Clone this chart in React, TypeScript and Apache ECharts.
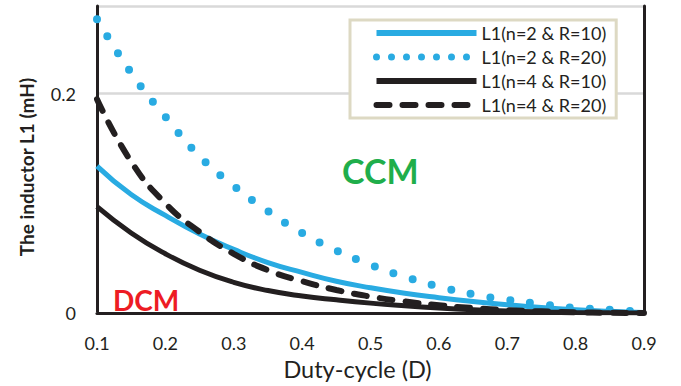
import { useEffect, useRef } from "react";
import * as echarts from "echarts";

const dutyCycle = [0.1, 0.15, 0.2, 0.25, 0.3, 0.35, 0.4, 0.45, 0.5, 0.55, 0.6, 0.65, 0.7, 0.75, 0.8, 0.85, 0.9];
const seriesNames = ["L1(n=2 & R=10)", "L1(n=2 & R=20)", "L1(n=4 & R=10)", "L1(n=4 & R=20)"];
const n2R10 = [0.134, 0.108, 0.089, 0.072, 0.058, 0.046, 0.037, 0.029, 0.023, 0.018, 0.014, 0.0105, 0.0075, 0.005, 0.003, 0.0015, 0.0004];
const n2R20 = [0.268, 0.219, 0.179, 0.143, 0.116, 0.093, 0.073, 0.057, 0.044, 0.033, 0.024, 0.017, 0.012, 0.008, 0.0046, 0.003, 0.001];
const n4R10 = [0.097, 0.073, 0.054, 0.039, 0.028, 0.0205, 0.0155, 0.012, 0.009, 0.0066, 0.0046, 0.003, 0.0018, 0.001, 0.0005, 0.0002, 0];
const n4R20 = [0.195, 0.138, 0.1, 0.074, 0.054, 0.039, 0.029, 0.021, 0.015, 0.0105, 0.007, 0.0045, 0.0027, 0.0015, 0.0007, 0.0002, 0];
const regionLabels = ["CCM", "DCM"];

const BLUE = "#29abe2";
const BLACK = "#231f20";
const FONT = "Lato";

function pairs(ys: number[]) {
  return dutyCycle.map((d, i) => [d, ys[i]]);
}

export default function App() {
  const ref = useRef<HTMLDivElement>(null);
  useEffect(() => {
    document.body.style.margin = "0";
    const chart = echarts.init(ref.current!, undefined, { renderer: "svg" });
    const frameAxis = {
      show: true,
      axisLine: { show: true, lineStyle: { color: BLACK, width: 3 } },
      axisTick: { show: false },
      axisLabel: { show: false },
      splitLine: { show: false },
    };
    const hidden = { opacity: 0 };
    chart.setOption({
      animation: false,
      textStyle: { fontFamily: FONT },
      grid: { left: 97, right: 37, top: 6, bottom: 73 },
      xAxis: [
        {
          type: "value",
          min: 0.1,
          max: 0.9,
          interval: 0.1,
          position: "bottom",
          axisLine: { show: true, lineStyle: { color: "#d9d9d9", width: 3 } },
          axisTick: { show: false },
          splitLine: { show: false },
          axisLabel: {
            fontSize: 18,
            color: BLACK,
            fontFamily: FONT,
            margin: 21,
            formatter: (v: number) => v.toFixed(1),
          },
          name: "Duty-cycle (D)",
          nameLocation: "middle",
          nameGap: 41,
          nameTextStyle: { fontSize: 23.5, color: BLACK, fontFamily: FONT, padding: [0, 26, 0, 0] },
        },
        { type: "value", min: 0.1, max: 0.9, position: "top", ...frameAxis },
      ],
      yAxis: [
        {
          type: "value",
          min: 0,
          max: 0.28,
          interval: 0.2,
          position: "left",
          axisLine: { show: true, lineStyle: { color: BLACK, width: 3 } },
          axisTick: { show: false },
          splitLine: { show: true, lineStyle: { color: "#d9d9d9", width: 2.5 } },
          axisLabel: {
            fontSize: 18,
            color: BLACK,
            fontFamily: FONT,
            margin: 21,
            showMaxLabel: false,
            formatter: (v: number) => (v === 0 ? "0" : v.toFixed(1)),
          },
          name: "The inductor L1 (mH)",
          nameLocation: "middle",
          nameGap: 61,
          nameTextStyle: { fontSize: 19, fontWeight: "bold", color: BLACK, fontFamily: FONT, padding: [0, 15, 0, 0] },
        },
        { type: "value", min: 0, max: 0.28, position: "right", ...frameAxis },
      ],
      legend: {
        orient: "vertical",
        left: 350,
        top: 20,
        itemWidth: 100,
        itemHeight: 8,
        itemGap: 6,
        padding: [4, 10, 4, 23],
        backgroundColor: "#ffffff",
        borderColor: "#ddd9c3",
        borderWidth: 3,
        borderRadius: 0,
        textStyle: { fontSize: 18, color: BLACK, fontFamily: FONT, lineHeight: 18 },
        data: [
          { name: seriesNames[0], itemStyle: hidden, lineStyle: { width: 6 } },
          { name: seriesNames[1], itemStyle: hidden, lineStyle: { width: 7, type: [0, 15], cap: "round" } },
          { name: seriesNames[2], itemStyle: hidden, lineStyle: { width: 6 } },
          { name: seriesNames[3], itemStyle: hidden, lineStyle: { width: 6, type: [13, 13], cap: "round" } },
        ],
      },
      series: [
        {
          name: seriesNames[0],
          type: "line",
          data: pairs(n2R10),
          showSymbol: false,
          symbol: "none",
          smooth: 0.5,
          color: BLUE,
          lineStyle: { color: BLUE, width: 5 },
        },
        {
          name: seriesNames[1],
          type: "line",
          data: pairs(n2R20),
          showSymbol: false,
          symbol: "none",
          smooth: 0.5,
          color: BLUE,
          lineStyle: { color: BLUE, width: 8, type: [0, 20], cap: "round" },
        },
        {
          name: seriesNames[2],
          type: "line",
          data: pairs(n4R10),
          showSymbol: false,
          symbol: "none",
          smooth: 0.5,
          color: BLACK,
          lineStyle: { color: BLACK, width: 5 },
        },
        {
          name: seriesNames[3],
          type: "line",
          data: pairs(n4R20),
          showSymbol: false,
          symbol: "none",
          smooth: 0.5,
          color: BLACK,
          lineStyle: { color: BLACK, width: 6, type: [13, 13], cap: "round" },
        },
      ],
      graphic: [
        {
          type: "text",
          x: 342,
          y: 170,
          style: { text: regionLabels[0], fill: "#1fae4b", font: `bold 34px ${FONT}`, align: "left", verticalAlign: "middle" },
        },
        {
          type: "text",
          x: 113,
          y: 300,
          style: { text: regionLabels[1], fill: "#ed1c24", font: `bold 28px ${FONT}`, align: "left", verticalAlign: "middle" },
        },
      ],
    });
    return () => chart.dispose();
  }, []);
  return <div ref={ref} style={{ width: 681, height: 386 }} />;
}
